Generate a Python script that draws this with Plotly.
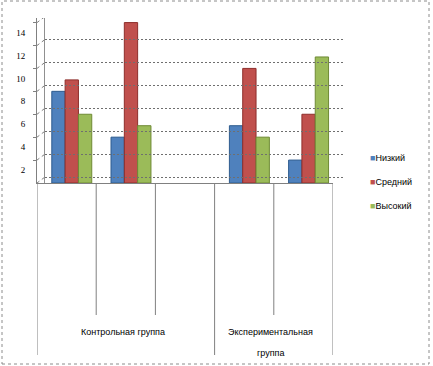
import textwrap
import plotly.graph_objects as go

# ---- data ----
slots = ["К1", "К2", "К3", "Э1", "Э2"]          # category slots (К3 is empty)
bar_slots = ["К1", "К2", "Э1", "Э2"]
groups = ["Контрольная группа", "Экспериментальная группа"]
group_spans = [(0, 2), (3, 4)]                   # slot index ranges of each group
series_names = ["Низкий", "Средний", "Высокий"]
low = [8, 4, 5, 2]
mid = [9, 14, 10, 6]
high = [6, 5, 4, 11]
y_ticks = [2, 4, 6, 8, 10, 12, 14]
wall_ticks = [0, 2, 4, 6, 8, 10, 12, 14]

colors = ["#4F81BD", "#C0504D", "#9BBB59"]
edge = ["#2E5C8F", "#8E2E2B", "#6F8A35"]
offsets = [-0.25, -0.025, 0.20]
bw = 0.225

fig = go.Figure()
for name, vals, c, e, off in zip(series_names, [low, mid, high], colors, edge, offsets):
    fig.add_trace(go.Bar(
        x=bar_slots, y=vals, name=name, showlegend=False,
        marker=dict(color=c, line=dict(color=e, width=1)),
        offset=off, width=bw, xaxis="x", yaxis="y",
    ))
# legend entries: coloured square glyph next to the name (symbol itself hidden)
for name, c in zip(series_names, colors):
    fig.add_trace(go.Scatter(x=[None], y=[None], mode="markers",
                             name=f"<span style='color:{c}'>■</span>{name}",
                             legendgroup=name,
                             marker=dict(symbol="square", size=1, color="rgba(0,0,0,0)")))

# invisible trace for back-wall axes
fig.add_trace(go.Scatter(x=[None], y=[None], xaxis="x2", yaxis="y2",
                         showlegend=False, hoverinfo="skip"))

W, H = 433, 366
L, R, T, B = 37, 88, 18, 183
pw, ph = W - L - R, H - T - B
ymax = 14.4
shift_units = 6 / (ph / ymax)

font = dict(family="Liberation Sans, Arial", size=9, color="#000000")

fig.update_layout(
    width=W, height=H,
    margin=dict(l=L, r=R, t=T, b=B, autoexpand=False),
    paper_bgcolor="white", plot_bgcolor="rgba(0,0,0,0)",
    barmode="overlay",
    font=font,
    showlegend=True,
    legend=dict(x=(330 - L) / pw, y=(183 - 143) / ph, xanchor="left", yanchor="top",
                font=dict(family="Liberation Sans, Arial", size=9, color="#000"),
                tracegroupgap=5, itemwidth=30, bgcolor="rgba(0,0,0,0)"),
    xaxis=dict(type="category", categoryorder="array", categoryarray=slots,
               range=[-0.5, 4.5], domain=[0, (333 - L) / pw],
               showticklabels=False, ticks="", showgrid=False, zeroline=False,
               showline=True, linecolor="#808080", linewidth=1),
    yaxis=dict(range=[0, ymax], tickvals=y_ticks, showgrid=False, zeroline=False,
               showline=True, linecolor="#808080", linewidth=1,
               ticks="outside", ticklen=3, tickcolor="#808080",
               tickfont=dict(family="Liberation Serif, Times New Roman", size=9, color="#000"),
               ticklabelshift=10, ticklabelstandoff=6),
    xaxis2=dict(domain=[(45 - L) / pw, 1], range=[0, 1], showticklabels=False,
                showgrid=False, zeroline=False, anchor="y2", layer="below traces"),
    yaxis2=dict(range=[-shift_units, ymax - shift_units], anchor="x2", overlaying="y",
                tickvals=wall_ticks, showticklabels=False,
                showgrid=True, gridcolor="#6F6F6F", griddash="2px,2px", gridwidth=1,
                zeroline=False, showline=True, linecolor="#909090", linewidth=1,
                layer="below traces"),
)

shapes = []
# diagonal connectors from front axis ticks to back wall
for v in wall_ticks:
    shapes.append(dict(type="line", xref="paper", yref="y", x0=0, x1=(45 - L) / pw,
                       y0=v, y1=v + shift_units, line=dict(color="#808080", width=1, dash="dot"),
                       layer="below"))
# right floor diagonal
shapes.append(dict(type="line", xref="x", yref="y", x0=4.5, x1=4.5 + 12 / (296 / 5),
                   y0=0, y1=shift_units, line=dict(color="#808080", width=1, dash="dot")))
# category divider lines below floor
for i in range(len(slots) + 1):
    xb = i - 0.5
    is_group_edge = any(xb == s - 0.5 or xb == e + 0.5 for s, e in group_spans)
    y_end = (183 - 355) / ph if is_group_edge else (183 - 315) / ph
    shapes.append(dict(type="line", xref="x", yref="paper", x0=xb, x1=xb,
                       y0=0, y1=y_end, line=dict(color="#808080", width=1)))
# outer dotted frame
shapes.append(dict(type="rect", xref="paper", yref="paper",
                   x0=(2 - L) / pw, x1=(429 - L) / pw, y0=(183 - 364) / ph, y1=(183 - 1) / ph,
                   line=dict(color="#8C8C8C", width=1, dash="dot"), layer="below"))
fig.update_layout(shapes=shapes)

annotations = []
for g, (s, e) in zip(groups, group_spans):
    lines = textwrap.wrap(g, 18)
    for k, ln in enumerate(lines):
        annotations.append(dict(text=ln, xref="x", yref="paper", x=(s + e) / 2 - 0.05,
                                y=(183 - (332 + 21 * k)) / ph, showarrow=False,
                                xanchor="center", yanchor="middle", font=font))
fig.update_layout(annotations=annotations)

fig.write_html("out.html")
